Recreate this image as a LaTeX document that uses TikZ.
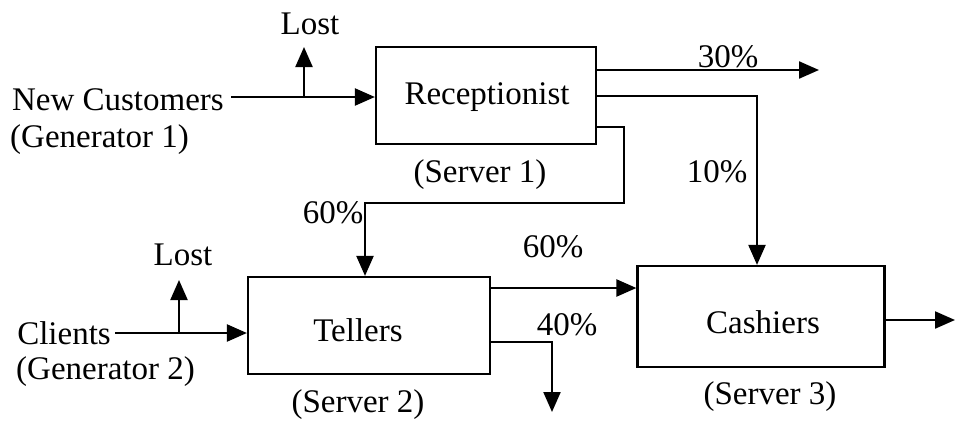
\documentclass[tikz,border=0pt]{standalone}
\usepackage{fontspec}
\setmainfont{Liberation Serif}
\usetikzlibrary{arrows.meta}
\begin{document}
\begin{tikzpicture}[x=1pt,y=-1pt,
  lbl/.style={inner sep=0pt,font=\fontsize{33}{39}\selectfont},
  srv/.style={draw,line width=2.2pt,inner sep=0pt},
  flow/.style={line width=2.2pt,-{Triangle[length=20pt,width=17pt]}},
  plain/.style={line width=2.2pt}]
\useasboundingbox (0,0) rectangle (955,421);
% servers
\node[srv,minimum width=220pt,minimum height=97pt] (rec) at (486,95.5) {};
\node[lbl] (rect) at (487,97) {Receptionist};
\node[srv,minimum width=242pt,minimum height=97pt] (tel) at (369,325.5) {};
\node[lbl] (telt) at (358,330) {Tellers};
\node[srv,minimum width=247pt,minimum height=101pt] (cas) at (761,316.5) {};
\node[lbl] (cast) at (763,322) {Cashiers};
% labels
\node[lbl,anchor=east] (nc) at (224,100) {New Customers};
\node[lbl,anchor=west] (g1) at (10,140) {(Generator 1)};
\node[lbl] (lost1) at (310,24) {Lost};
\node[lbl] (s1) at (480,175) {(Server 1)};
\node[lbl] (p30) at (728,57) {30\%};
\node[lbl] (p10) at (717,172) {10\%};
\node[lbl] (p60a) at (333,213) {60\%};
\node[lbl,anchor=east] (cl) at (111,333) {Clients};
\node[lbl,anchor=west] (g2) at (16,372) {(Generator 2)};
\node[lbl] (lost2) at (183,255) {Lost};
\node[lbl] (s2) at (358,405) {(Server 2)};
\node[lbl] (p60b) at (553,247) {60\%};
\node[lbl] (p40) at (567,325) {40\%};
\node[lbl] (s3) at (770,397) {(Server 3)};
% coordinates
\coordinate (a1) at (231,97);
\coordinate (l1) at (304,97);
\coordinate (l1t) at (304,47);
\coordinate (o30s) at (596,70);
\coordinate (o30) at (819,70);
\coordinate (o10s) at (596,96);
\coordinate (o10c) at (757,96);
\coordinate (o60s) at (596,127);
\coordinate (o60a) at (624,127);
\coordinate (o60b) at (624,203);
\coordinate (o60c) at (365,203);
\coordinate (a2) at (115,333);
\coordinate (l2) at (179,333);
\coordinate (l2t) at (179,280);
\coordinate (t60) at (490,288);
\coordinate (t40) at (490,342);
\coordinate (t40c) at (552,342);
\coordinate (t40e) at (552,412);
\coordinate (cout) at (884,320);
\coordinate (coute) at (955,320);
% connectors
\draw[flow] (a1) -- (a1 -| rec.west);
\draw[flow] (l1) -- (l1t);
\draw[flow] (o30s) -- (o30);
\draw[flow] (o10s) -- (o10c) -- (o10c |- cas.north);
\draw[flow] (o60s) -- (o60a) -- (o60b) -- (o60c) -- (o60c |- tel.north);
\draw[flow] (a2) -- (a2 -| tel.west);
\draw[flow] (l2) -- (l2t);
\draw[flow] (t60) -- (t60 -| cas.west);
\draw[flow] (t40) -- (t40c) -- (t40e);
\draw[flow] (cout) -- (coute);
\end{tikzpicture}
\end{document}
